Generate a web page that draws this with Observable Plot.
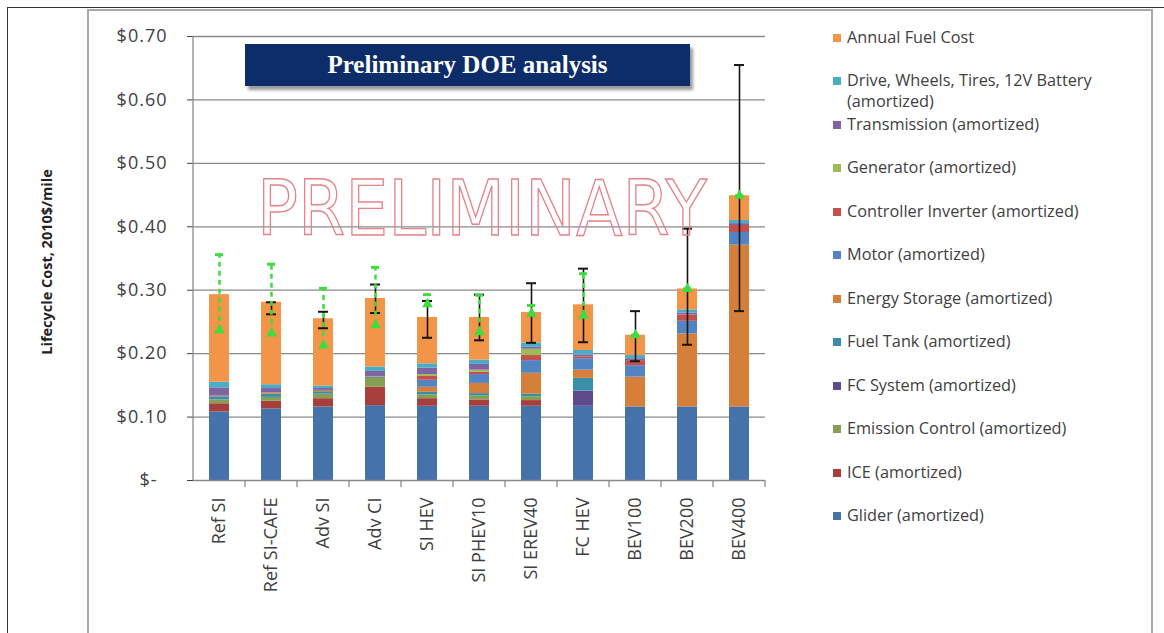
<!DOCTYPE html>
<html><head><meta charset="utf-8">
<script src="https://cdn.jsdelivr.net/npm/d3@7"></script>
<script src="https://cdn.jsdelivr.net/npm/@observablehq/plot@0.6"></script>
<style>
body{margin:0;background:#fff;}
#wrap{position:relative;width:1164px;height:633px;overflow:hidden;font-family:"Open Sans",sans-serif;color:#404040;}
#outer{position:absolute;left:7px;top:7px;width:1160px;height:640px;border-left:1px solid #333;border-top:1px solid #333;}
#inner{position:absolute;left:87px;top:9px;width:1062px;height:640px;border:2px solid #a8a8a8;}
#chart{position:absolute;left:0;top:0;}
#chart g[aria-label="y-axis tick label"] text{letter-spacing:1px;}
#title{position:absolute;left:245px;top:44px;width:445px;height:42px;background:#0c2d69;box-shadow:3px 4px 3px #9a9a9a;color:#fff;font-family:"Liberation Serif",serif;font-weight:bold;font-size:25px;line-height:42px;text-align:center;}
#ylabel{position:absolute;left:46px;top:262px;transform:translate(-50%,-50%) rotate(-90deg);white-space:nowrap;font-weight:bold;font-size:14.5px;color:#222;}
.lg{position:absolute;left:833px;font-size:16.3px;line-height:21px;max-width:280px;}
.lg i{position:absolute;left:0;top:7px;width:8px;height:8px;}
.lg span{display:block;margin-left:14px;}
</style></head><body><div id="wrap"><div id="outer"></div><div id="inner"></div></div>
<script>
const categories = ["Ref SI","Ref SI-CAFE","Adv SI","Adv CI","SI HEV","SI PHEV10","SI EREV40","FC HEV","BEV100","BEV200","BEV400"];
// series, bottom to top of each stack
const seriesNames = ["Glider (amortized)","ICE (amortized)","Emission Control (amortized)","FC System (amortized)","Fuel Tank (amortized)","Energy Storage (amortized)","Motor (amortized)","Controller Inverter (amortized)","Generator (amortized)","Transmission (amortized)","Drive, Wheels, Tires, 12V Battery (amortized)","Annual Fuel Cost"];
const seriesColors = ["#4672ab","#a7403c","#879f52","#5f4b8b","#3a8fa8","#d57f3a","#5284c4","#c4504c","#9bbb59","#8064a2","#4bacc6","#f39548"];
const glider        = [0.108,0.113,0.116,0.118,0.117,0.117,0.117,0.117,0.116,0.116,0.116];
const ice           = [0.013,0.012,0.013,0.029,0.012,0.010,0.009,0,0,0,0];
const emission      = [0.006,0.006,0.007,0.014,0.006,0.006,0.006,0,0,0,0];
const fcSystem      = [0,0,0,0,0,0,0,0.024,0,0,0];
const fuelTank      = [0.005,0.005,0.004,0.002,0.004,0.004,0.004,0.020,0,0,0];
const energyStorage = [0.001,0.002,0.002,0.001,0.008,0.016,0.033,0.013,0.047,0.115,0.255];
const motor         = [0,0,0,0,0.011,0.014,0.020,0.018,0.018,0.020,0.020];
const controller    = [0,0,0,0,0.006,0.004,0.008,0.003,0.008,0.010,0.011];
const generator     = [0,0,0,0,0.003,0.003,0.010,0,0,0,0];
const transmission  = [0.013,0.007,0.003,0.008,0.010,0.009,0.003,0.003,0.003,0.003,0.003];
const drive         = [0.009,0.006,0.004,0.007,0.007,0.007,0.007,0.007,0.005,0.005,0.005];
const fuelCost      = [0.138,0.130,0.106,0.108,0.073,0.067,0.048,0.072,0.032,0.033,0.039];
const seriesValues = [glider,ice,emission,fcSystem,fuelTank,energyStorage,motor,controller,generator,transmission,drive,fuelCost];
// black error bars (null = none)
const errLow  = [null,0.262,0.240,0.264,0.225,0.221,0.217,0.218,0.188,0.214,0.267];
const errHigh = [null,0.281,0.266,0.309,0.283,0.293,0.311,0.334,0.267,0.397,0.655];
// green dashed ranges
const greenLow  = [0.237,0.232,0.213,0.245,0.278,0.234,0.263,0.260,0.229,0.302,0.449];
const greenHigh = [0.356,0.341,0.303,0.336,0.293,0.292,0.276,0.326,0.229,0.302,0.449];
const yTicks = [0,0.1,0.2,0.3,0.4,0.5,0.6,0.7];

const rows = [];
categories.forEach((c,i)=>seriesNames.forEach((s,j)=>{ if (seriesValues[j][i] > 0) rows.push({cat:c, series:s, value:seriesValues[j][i]}); }));
const errRows = categories.map((c,i)=>({cat:c, lo:errLow[i], hi:errHigh[i]})).filter(d=>d.lo!=null);
const greenRows = categories.map((c,i)=>({cat:c, lo:greenLow[i], hi:greenHigh[i]}));
const green = "#3fdc3f";

const plot = Plot.plot({
  width: 800, height: 633,
  marginLeft: 193, marginRight: 35, marginTop: 36, marginBottom: 153,
  style: {fontFamily:"'Open Sans', sans-serif", fontSize:"18px", color:"#404040", background:"transparent", overflow:"visible"},
  x: {domain: categories, paddingInner: 0.62, paddingOuter: 0.31, label: null, tickSize: 0, tickRotate: -90, tickPadding: 17},
  y: {domain: [0, 0.7], ticks: yTicks, tickFormat: d => d === 0 ? "$-\u2002" : "$" + d.toFixed(2), label: null, tickSize: 6, tickPadding: 20},
  color: {domain: seriesNames, range: seriesColors},
  marks: [
    Plot.ruleY(yTicks.slice(1), {stroke:"#8a8a8a", strokeWidth:1.3}),
    Plot.barY(rows, {x:"cat", y:"value", fill:"series"}),
    Plot.ruleY([0], {stroke:"#8a8a8a", strokeWidth:1.3}),
    Plot.ruleX(errRows, {x:"cat", y1:"lo", y2:"hi", stroke:"#151515", strokeWidth:1.6}),
    Plot.tickY(errRows, {x:"cat", y:"lo", stroke:"#151515", strokeWidth:2, insetLeft:5, insetRight:5}),
    Plot.tickY(errRows, {x:"cat", y:"hi", stroke:"#151515", strokeWidth:2, insetLeft:5, insetRight:5}),
    Plot.ruleX(greenRows, {x:"cat", y1:"lo", y2:"hi", stroke:green, strokeWidth:2.5, strokeDasharray:"5,4"}),
    Plot.tickY(greenRows, {x:"cat", y:"hi", stroke:green, strokeWidth:3, insetLeft:6, insetRight:6}),
    Plot.dot(greenRows, {x:"cat", y:"lo", symbol:"triangle", r:4, fill:green})
  ]
});
plot.id = "chart";
document.getElementById("wrap").appendChild(plot);

// axis lines and category separators via the plot's scales
const xs = plot.scale("x"), ys = plot.scale("y");
const svg = d3.select(plot);
const y0 = ys.apply(0), yTop = ys.apply(0.7);
const x0 = xs.range[0];
svg.append("line").attr("x1",x0).attr("x2",x0).attr("y1",yTop).attr("y2",y0).attr("stroke","#8a8a8a").attr("stroke-width",1.3);
const stepW = xs.step;
categories.forEach((c)=>{
  const cx = xs.apply(c) + xs.bandwidth/2 + stepW/2;
  svg.append("line").attr("x1",cx).attr("x2",cx).attr("y1",y0).attr("y2",y0+7).attr("stroke","#8a8a8a").attr("stroke-width",1.3);
});
// watermark
svg.append("text").text("PRELIMINARY")
  .attr("x",482).attr("y",235).attr("text-anchor","middle")
  .attr("font-family","'DejaVu Sans', sans-serif").attr("font-size",76)
  .attr("textLength",450).attr("lengthAdjust","spacingAndGlyphs")
  .attr("fill","none").attr("stroke","#e5828a").attr("stroke-width",1.4);

// title box
const wrap = d3.select("#wrap");
wrap.append("div").attr("id","title").text("Preliminary DOE analysis");
wrap.append("div").attr("id","ylabel").text("Lifecycle Cost, 2010$/mile");
// legend (top to bottom = reverse of stack)
seriesNames.slice().reverse().forEach((s,i)=>{
  const col = seriesColors[seriesNames.indexOf(s)];
  const d = wrap.append("div").attr("class","lg").style("top",(37 + i*43.5 - 10.5)+"px");
  d.append("i").style("background",col);
  d.append("span").text(s);
});
</script></body></html>
